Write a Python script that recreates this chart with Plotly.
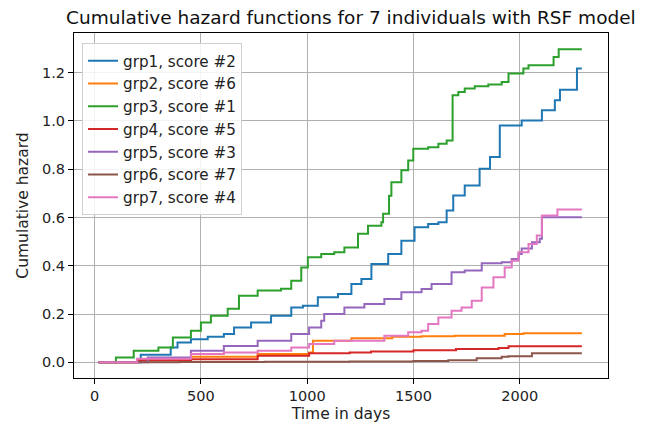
import plotly.graph_objects as go

# ---- data (step functions, post-step) ----
names = ["grp1, score #2", "grp2, score #6", "grp3, score #1", "grp4, score #5",
         "grp5, score #3", "grp6, score #7", "grp7, score #4"]
colors = ["#1f77b4", "#ff7f0e", "#2ca02c", "#d62728", "#9467bd", "#8c564b", "#e377c2"]

grp1_t = [19, 217, 358, 390, 453, 532, 608, 656, 736, 830, 925, 980, 1050, 1145, 1208, 1255,
          1302, 1381, 1443, 1505, 1569, 1617, 1656, 1687, 1741, 1811, 1860, 1906, 2009, 2104,
          2165, 2189, 2269, 2292]
grp1_v = [0, 0.031, 0.061, 0.082, 0.096, 0.106, 0.117, 0.144, 0.165, 0.193, 0.227, 0.234, 0.269,
          0.283, 0.324, 0.345, 0.407, 0.449, 0.504, 0.559, 0.573, 0.580, 0.629, 0.691, 0.732,
          0.802, 0.850, 0.981, 1.002, 1.044, 1.085, 1.129, 1.217, 1.217]

grp2_t = [19, 200, 453, 767, 1009, 1027, 1208, 1400, 1538, 1693, 1929, 2017, 2292]
grp2_v = [0, 0.010, 0.023, 0.034, 0.041, 0.089, 0.100, 0.106, 0.108, 0.110, 0.117, 0.120, 0.120]

grp3_t = [19, 100, 184, 300, 368, 453, 500, 547, 626, 679, 767, 877, 925, 972, 1003, 1066,
          1127, 1175, 1239, 1286, 1349, 1357, 1385, 1396, 1443, 1475, 1499, 1569, 1617, 1656,
          1684, 1711, 1741, 1788, 1852, 1915, 1947, 2017, 2041, 2159, 2183, 2292]
grp3_v = [0, 0.020, 0.048, 0.061, 0.103, 0.131, 0.165, 0.193, 0.222, 0.276, 0.297, 0.305, 0.338,
          0.393, 0.435, 0.449, 0.456, 0.476, 0.532, 0.566, 0.580, 0.615, 0.690, 0.746, 0.795,
          0.836, 0.885, 0.891, 0.905, 0.919, 1.106, 1.120, 1.134, 1.143, 1.151, 1.161, 1.196,
          1.217, 1.230, 1.265, 1.297, 1.297]

grp4_t = [19, 200, 453, 767, 1009, 1200, 1300, 1500, 1700, 1900, 1947, 2292]
grp4_v = [0, 0.008, 0.013, 0.027, 0.037, 0.041, 0.045, 0.050, 0.055, 0.059, 0.067, 0.067]

grp5_t = [19, 250, 453, 608, 767, 925, 1009, 1066, 1080, 1175, 1269, 1363, 1443, 1538, 1585,
          1679, 1741, 1821, 1915, 1962, 1994, 2009, 2057, 2094, 2104, 2292]
grp5_v = [0, 0.020, 0.048, 0.068, 0.089, 0.117, 0.144, 0.172, 0.200, 0.227, 0.241, 0.262, 0.290,
          0.304, 0.324, 0.373, 0.380, 0.410, 0.414, 0.428, 0.449, 0.471, 0.497, 0.512, 0.601, 0.601]

grp6_t = [19, 400, 800, 1200, 1500, 1664, 1797, 1915, 1947, 2057, 2292]
grp6_v = [0, 0.001, 0.002, 0.003, 0.005, 0.009, 0.017, 0.023, 0.025, 0.037, 0.037]

grp7_t = [19, 200, 453, 608, 767, 925, 1009, 1127, 1363, 1475, 1538, 1569, 1617, 1679, 1726,
          1774, 1821, 1876, 1929, 1962, 1994, 2041, 2080, 2104, 2177, 2292]
grp7_v = [0, 0.015, 0.034, 0.041, 0.048, 0.061, 0.076, 0.089, 0.110, 0.124, 0.131, 0.159, 0.186,
          0.214, 0.227, 0.255, 0.310, 0.352, 0.393, 0.421, 0.456, 0.490, 0.525, 0.608, 0.633, 0.633]

series_t = [grp1_t, grp2_t, grp3_t, grp4_t, grp5_t, grp6_t, grp7_t]
series_v = [grp1_v, grp2_v, grp3_v, grp4_v, grp5_v, grp6_v, grp7_v]

x_ticks = [0, 500, 1000, 1500, 2000]
y_ticks = [0.0, 0.2, 0.4, 0.6, 0.8, 1.0, 1.2]

fig = go.Figure()
for name, col, t, v in zip(names, colors, series_t, series_v):
    fig.add_trace(go.Scatter(x=t, y=v, mode="lines", name=name,
                             line=dict(color=col, width=2, shape="hv")))

font_fam = "DejaVu Sans, sans-serif"
axis_common = dict(showline=True, linecolor="black", linewidth=1, mirror=True,
                   showgrid=True, gridcolor="#b0b0b0", gridwidth=1,
                   ticks="outside", ticklen=5, tickcolor="black",
                   tickfont=dict(family=font_fam, size=14.5, color="#222"),
                   zeroline=False, automargin=False)

fig.update_layout(
    width=645, height=425,
    margin=dict(l=74, r=37, t=33, b=47),
    paper_bgcolor="white", plot_bgcolor="white",
    title=dict(text="Cumulative hazard functions for 7 individuals with RSF model",
               x=0.544, xanchor="center", y=0.958, yanchor="middle",
               font=dict(family=font_fam, size=18.5, color="#111")),
    font=dict(family=font_fam, size=14, color="#222"),
    legend=dict(x=0.015, y=0.97, xanchor="left", yanchor="top",
                bgcolor="rgba(255,255,255,0.85)", bordercolor="#d0d0d0", borderwidth=1,
                font=dict(family=font_fam, size=15.2, color="#222"),
                tracegroupgap=0),
    showlegend=True,
)
fig.update_xaxes(range=[-97, 2415], tickvals=x_ticks,
                 title=dict(text="Time in days", font=dict(family=font_fam, size=15.5), standoff=4),
                 **axis_common)
fig.update_yaxes(range=[-0.065, 1.364], tickvals=y_ticks, tickformat=".1f",
                 title=dict(text="Cumulative hazard", font=dict(family=font_fam, size=15.5), standoff=9),
                 **axis_common)

fig.write_html("out.html")
